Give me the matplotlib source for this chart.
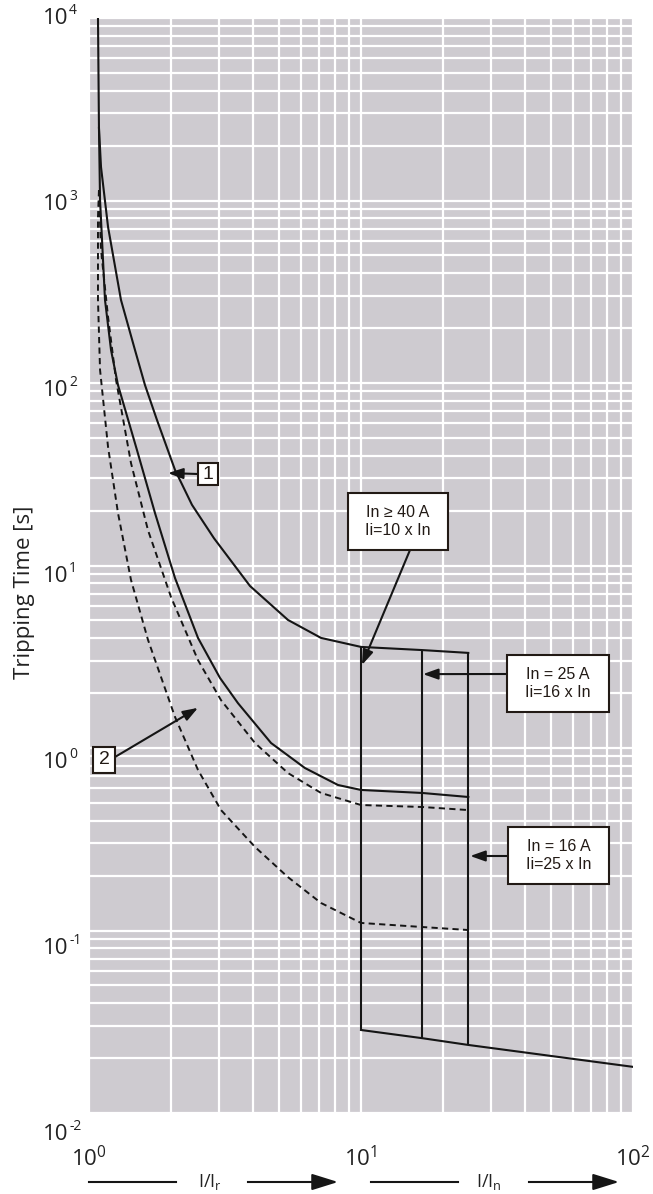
import matplotlib.pyplot as plt
from matplotlib.patches import Rectangle

plt.rcParams['font.family'] = ['Open Sans', 'DejaVu Sans']
plt.rcParams['mathtext.fontset'] = 'custom'
plt.rcParams['mathtext.rm'] = 'Open Sans'
plt.rcParams['mathtext.it'] = 'Open Sans:italic'
plt.rcParams['mathtext.bf'] = 'Open Sans:bold'

W, H = 653, 1194

# ==== data (I/In, seconds) ====
# band 1 (solid) upper limit
i_1_hi = [1.079, 1.088, 1.107, 1.175, 1.311, 1.476, 1.606, 1.778, 2.071, 2.391,
          2.881, 3.908, 5.39, 7.13, 10.0, 16.8, 24.8]
t_1_hi = [10000, 2497, 1526, 716, 285, 151.6, 97.5, 62.7, 33.4, 21.5,
          14.1, 7.72, 5.03, 4.01, 3.58, 3.44, 3.32]
# band 1 (solid) lower limit
i_1_lo = [1.088, 1.098, 1.145, 1.205, 1.278, 1.501, 1.748, 2.071, 2.516, 3.031,
          3.53, 4.67, 6.22, 8.23, 10.0, 16.8, 24.8]
t_1_lo = [2497, 1006, 285, 151.6, 97.5, 42.9, 19.4, 8.54, 4.01, 2.42,
          1.76, 1.065, 0.777, 0.627, 0.589, 0.567, 0.539]
# band 2 (dashed) upper limit
i_2_hi = [1.088, 1.107, 1.175, 1.257, 1.427, 1.648, 2.002, 2.516, 3.057, 4.076,
          5.39, 7.13, 10.0, 16.8, 24.8]
t_2_hi = [1141, 536, 230, 104, 36.4, 15.6, 6.72, 3.03, 1.83, 1.065,
          0.729, 0.567, 0.487, 0.475, 0.457]
# band 2 (dashed) lower limit
i_2_lo = [1.088, 1.079, 1.079, 1.098, 1.175, 1.278, 1.427, 1.648, 2.071, 2.516,
          3.057, 4.076, 5.39, 7.13, 10.0, 16.8, 24.8]
t_2_lo = [1141, 812, 285, 118, 44.6, 19.4, 8.33, 3.91, 1.48, 0.758,
          0.457, 0.287, 0.196, 0.1415, 0.110, 0.1045, 0.1006]

# instantaneous release Ii (x In) for In >= 40 A, 25 A, 16 A
ii_mult = [10.0, 16.8, 24.8]
t_ii_top = [3.58, 3.44, 3.32]
t_ii_bot = [0.0285, 0.0257, 0.0236]
i_inst = [10.0, 16.8, 24.8, 100.0]
t_inst = [0.0285, 0.0257, 0.0236, 0.0179]

y_exps = ['4', '3', '2', '1', '0', '-1', '-2']

# ==== figure ====
fig = plt.figure(figsize=(W / 100, H / 100), dpi=100)
ax = fig.add_axes([89 / W, 1 - 1113 / H, (633 - 89) / W, (1113 - 18) / H])
ax.set_xscale('log')
ax.set_yscale('log')
ax.set_xlim(1, 100)
ax.set_ylim(1e-2, 1e4)
ax.set_facecolor('#cecbd0')
ax.grid(True, which='both', color='white', linewidth=1.6)
ax.set_axisbelow(True)
for s in ax.spines.values():
    s.set_visible(False)
ax.tick_params(which='both', length=0)
ax.tick_params(axis='x', labelsize=16, labelcolor='#222222', pad=24)
ax.tick_params(axis='y', labelleft=False)
ax.set_xticks([1, 10, 100])

ink = '#151515'
ax.plot(i_1_hi, t_1_hi, color=ink, lw=1.5)
ax.plot(i_1_lo, t_1_lo, color=ink, lw=1.5)
ax.plot(i_2_hi, t_2_hi, color=ink, lw=1.4, ls=(0, (3.2, 2.2)))
ax.plot(i_2_lo, t_2_lo, color=ink, lw=1.4, ls=(0, (3.2, 2.2)))
ax.vlines(ii_mult, t_ii_bot, t_ii_top, color=ink, lw=1.5)
ax.plot(i_inst, t_inst, color=ink, lw=1.5)

# y tick labels (spaced as on the original sheet), "10" plus a small exponent
for k, e in enumerate(y_exps):
    py = 18 + k * 186
    fig.text(43 / W, 1 - py / H, '10', ha='left', va='center', fontsize=16, color='#222222')
    fig.text(69 / W, 1 - (py - 7) / H, e, ha='left', va='center', fontsize=10,
             color='#222222')

fig.text(25 / W, 1 - 592 / H, 'Tripping Time [s]', rotation=90, ha='center', va='center',
         fontsize=16, color='#222222')


# ==== boxes and arrows ====
def box(cx, cy, w, h, txt, fs, family='Liberation Sans'):
    fig.add_artist(Rectangle(((cx - w / 2) / W, 1 - (cy + h / 2) / H), w / W, h / H,
                             transform=fig.transFigure, facecolor='white',
                             edgecolor='#221a15', lw=1.5, zorder=5))
    fig.text(cx / W, 1 - cy / H, txt, ha='center', va='center', fontsize=fs,
             family=family, color='#221a15', linespacing=1.3, zorder=6)


def arrow(tip, tail_px):
    ax.annotate('', xy=tip, xytext=(tail_px[0], H - tail_px[1]), textcoords='figure pixels',
                arrowprops=dict(arrowstyle='-|>,head_length=0.45,head_width=0.16',
                                mutation_scale=20, color=ink, lw=1.5,
                                shrinkA=0, shrinkB=0), zorder=4)


arrow((1.952, 32.1), (198, 474))
box(208, 474, 20, 22, '1', 14)
arrow((2.516, 1.66), (115, 757))
box(104, 760, 22, 26, '2', 14)
arrow((10.08, 2.85), (410, 550))
box(398, 521.5, 100, 57, 'In ≥ 40 A\nIi=10 x In', 11.5)
arrow((16.9, 2.54), (507, 674))
box(558, 683.5, 102, 57, 'In = 25 A\nIi=16 x In', 11.5)
arrow((25.2, 0.256), (508, 856))
box(558.5, 855.5, 101, 57, 'In = 16 A\nIi=25 x In', 11.5)

# ==== bottom axis legend: I/Ir and I/In ====
yb = H - 1182
for x0, x1 in [(89, 176), (371, 458)]:
    fig.add_artist(plt.Line2D([x0 / W, x1 / W], [yb / H, yb / H], color=ink, lw=1.5,
                              transform=fig.transFigure))
for x0, x1 in [(248, 338), (529, 619)]:
    fig.add_artist(plt.Line2D([x0 / W, (x1 - 10) / W], [yb / H, yb / H], color=ink, lw=1.5,
                              transform=fig.transFigure))
    ax.annotate('', xy=(x1, yb), xycoords='figure pixels', xytext=(x1 - 20, yb),
                textcoords='figure pixels',
                arrowprops=dict(arrowstyle='-|>,head_length=0.8,head_width=0.25',
                                mutation_scale=20, color=ink, lw=1.5, shrinkA=0, shrinkB=0),
                annotation_clip=False)
fig.text(210 / W, yb / H, r'I/I$_\mathregular{r}$', ha='center', va='center', fontsize=13,
         color='#222222')
fig.text(489 / W, yb / H, r'I/I$_\mathregular{n}$', ha='center', va='center', fontsize=13,
         color='#222222')

fig.savefig('out.png', dpi=100)
